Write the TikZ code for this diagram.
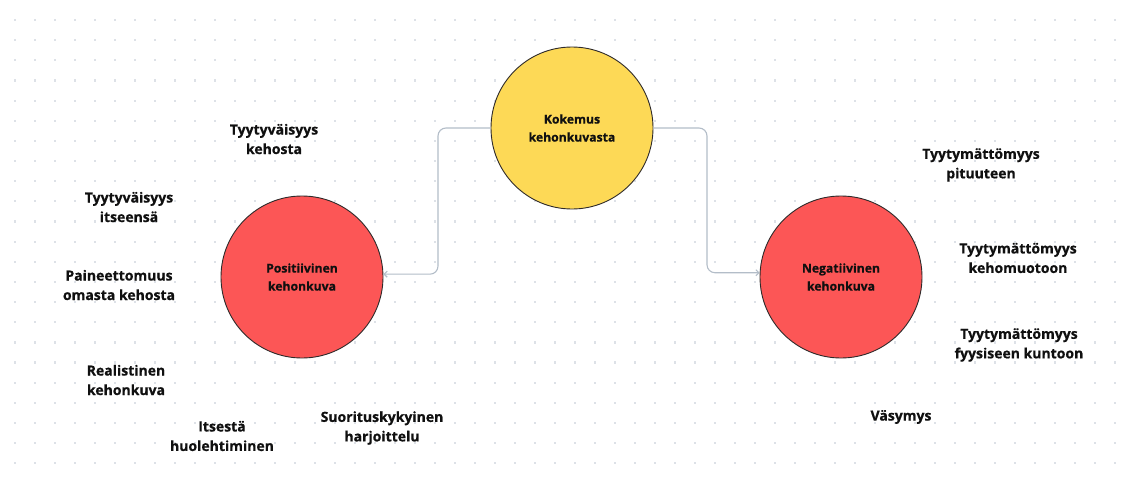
\documentclass[tikz,border=0pt]{standalone}
\usepackage{fontspec}
\setmainfont{Open Sans}[BoldFeatures={FakeBold=0.6}]
\usetikzlibrary{arrows.meta}
\definecolor{dotc}{HTML}{DDE1E7}
\definecolor{connc}{HTML}{B3BDC8}
\definecolor{yel}{HTML}{FDD956}
\definecolor{redc}{HTML}{FC5656}
\definecolor{edgec}{HTML}{2E2A2A}
\definecolor{txtc}{HTML}{101010}
\tikzset{
  bubble/.style={circle, draw=edgec, line width=0.9pt, minimum size=162pt, inner sep=0pt,
    align=center, text=txtc, font=\fontsize{12.2}{18}\selectfont\bfseries},
  label text/.style={align=center, text=txtc, inner sep=0pt,
    font=\fontsize{14}{19.5}\selectfont\bfseries},
  conn/.style={draw=connc, line width=1.1pt, rounded corners=8pt,
    -{Straight Barb[length=3pt,width=6pt]}}
}
\begin{document}
\begin{tikzpicture}[x=1pt,y=-1pt]
\useasboundingbox (0,0) rectangle (1127,479);
\fill[white] (0,0) rectangle (1127,479);
\foreach \i in {0,...,55} {
  \foreach \j in {0,...,22} {
    \fill[dotc] ({15+20*\i-1.1},{20+20.15*\j-1.1}) rectangle ++(2.2,2.2);
  }
}
\node[bubble, fill=yel] (kok) at (572,128) {Kokemus\\kehonkuvasta};
\node[bubble, fill=redc] (pos) at (302,277) {Positiivinen\\kehonkuva};
\node[bubble, fill=redc] (neg) at (841,277) {Negatiivinen\\kehonkuva};
\coordinate (lbend) at (438,0);
\coordinate (rbend) at (707,0);
\draw[conn] (kok.west) -| (lbend |- pos.2.8) -- (pos.2.8);
\draw[conn] (kok.east) -| (rbend |- neg.177.2) -- (neg.177.2);
\node[label text] (t1) at (274,139) {Tyytyväisyys\\kehosta};
\node[label text] (t2) at (129,207) {Tyytyväisyys\\itseensä};
\node[label text] (t3) at (119,285) {Paineettomuus\\omasta kehosta};
\node[label text] (t4) at (126,380) {Realistinen\\kehonkuva};
\node[label text] (t5) at (222,436) {Itsestä\\huolehtiminen};
\node[label text] (t6) at (382,428) {Suorituskykyinen\\harjoittelu};
\node[label text] (t7) at (981,165) {Tyytymättömyys\\pituuteen};
\node[label text] (t8) at (1018,258) {Tyytymättömyys\\kehomuotoon};
\node[label text] (t9) at (1019,345) {Tyytymättömyys\\fyysiseen kuntoon};
\node[label text] (t10) at (901,417) {Väsymys};
\end{tikzpicture}
\end{document}
